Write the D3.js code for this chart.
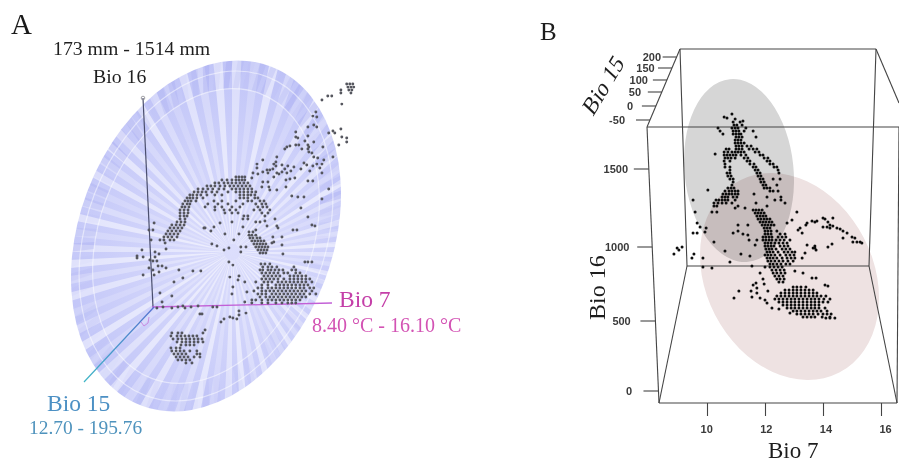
<!DOCTYPE html>
<html>
<head>
<meta charset="utf-8">
<style>
html, body { margin: 0; background: #fff; }
svg { display: block; }
text { font-family: "Liberation Serif", serif; }
.tickB text { font-family: "Liberation Sans", sans-serif; font-size: 11px; font-weight: 600; fill: #3a3a3a; }
.tickB line { stroke: #444; stroke-width: 1.1; }
.soft { filter: blur(.45px); }
.softer { filter: blur(.7px); }
</style>
<script src="https://cdn.jsdelivr.net/npm/d3@7"></script>
</head>
<body>
<div id="chart"></div>
<script>
// tick values, panel B
const bio7Ticks = [10, 12, 14, 16];
const bio16Ticks = [0, 500, 1000, 1500];
const bio15Ticks = [-50, 0, 50, 100, 150, 200];

// every row below is [Bio 16, [Bio 7, ...]]
// panel A is a tilted projection, so rows run past the axis limits at both ends
const aTip = [
  [1604,[16.73,16.86,16.99]],[1584,[16.78,16.91,17.03]],[1565,[16.48,16.82,16.95]],[1546,[16.48,16.91]],
  [1527,[15.92,16.09]],[1501,[15.67]],[1475,[16.52]],[1315,[16.48]],[1302,[16.14]],[1289,[15.96,16.22]],
  [1264,[16.52]],[1257,[16.73]],[1232,[16.73]],[1212,[16.39]]
];
const aUpper = [
  [1424,[15.41]],[1398,[15.28]],[1392,[15.45]],[1341,[15.32]],[1328,[15.07,15.45]],[1296,[14.55]],[1270,[15.07]],
  [1264,[14.55]],[1257,[14.64]],[1238,[14.94]],[1232,[15.32]],[1212,[15.07,14.55,14.68]],[1206,[14.3]],
  [1200,[14.17,15.11,15.71]],[1187,[14.08,14.81,15.07]],[1168,[15.11]],[1161,[15.24]],[1135,[13.74,15.32,16.14]],
  [1129,[15.49]],[1116,[13.14,15.75]],[1103,[13.7]],[1097,[14.9]],[1090,[12.89,13.61,15.45,15.67]],[1084,[13.96,15.02]],
  [1078,[13.7,14.21,15.28]],[1071,[14.47]],[1065,[12.89,15.58]],[1058,[13.57,14.08,14.77]],[1052,[13.32,13.44]],
  [1046,[14.34,15.15]],[1039,[13.14,13.96]],[1033,[12.72,13.36,13.74,14.17,15.67]],[1026,[12.93,13.83]],[1007,[13.61]],
  [1001,[12.67,14.51]],[994,[14.3]],[988,[14.13]],[981,[15.07,15.28]],[975,[13.14,13.36]],[943,[13.1,13.4,14.13]],
  [930,[15.96]],[924,[13.44,13.74]],[885,[14.38]],[879,[14.64,14.9]],[866,[15.67]]
];
const aArc = [
  [1007,[11.99,12.12,12.25,12.37]],[988,[11.39,11.61,11.82,11.99,12.12,12.25,12.37]],
  [969,[11.09,11.26,11.48,11.65,11.82,11.99,12.16,12.33,12.5]],
  [949,[10.75,10.92,11.09,11.31,11.52,11.73,11.9,12.08,12.25,12.42,12.59]],
  [930,[10.37,10.58,10.79,11,11.26,11.48,11.82,11.99,12.16,12.33,12.5,12.67]],
  [911,[10.2,10.37,10.54,10.71,10.96,11.18,11.65,11.99,12.16,12.33,12.5,12.67,12.84]],
  [892,[10.02,10.15,10.32,10.49,10.75,11.09,11.39,12.16,12.33,12.5,12.63,12.8]],
  [872,[9.9,10.02,10.15,10.32,10.58,12.16,12.33,12.5,12.8,12.93]],
  [853,[9.81,9.94,10.07,10.28,11.05,11.39,11.99,12.5,12.67,13.02,13.19]],
  [834,[9.72,9.9,10.02,10.79,11.22,11.65,12.29,12.84,13.1,13.27]],
  [815,[9.68,9.81,9.98,10.67,11.09,11.39,11.82,12.16,12.93,13.14,13.32]],
  [795,[9.6,9.77,9.94,11.09,11.48,11.73,11.99,12.76,13.02,13.44]],
  [776,[9.6,9.77,9.94,11.52,11.82,12.08,13.1,13.36]],[757,[9.6,9.77,9.9,12.33,12.5,13.23]],
  [738,[9.6,9.81,12.29,12.5]],[718,[9.47,9.64,9.81,11.82,13.02]],[699,[9.25,9.43,9.6,9.77]],
  [680,[9.17,9.34,9.51,9.68,10.62]],[661,[9.08,9.25,9.43,9.6]],[641,[9,9.17,9.34,9.51]],
  [622,[8.91,9.08,9.25,9.47]],[603,[8.74,8.91,9.17,9.34]],[584,[8.96]]
];
const aMidBlob = [
  [654,[12.55,12.72]],[634,[12.55,12.67,12.84]],[616,[12.59,12.72,12.89,13.02]],[597,[12.67,12.8,12.93,13.06,13.19]],
  [577,[12.76,12.89,13.02,13.14,13.27]],[558,[12.84,12.97,13.1,13.23,13.36]],[539,[12.93,13.06,13.19,13.32]],
  [519,[13.02,13.14,13.27]]
];
const aScatter = [
  [808,[14.77]],[750,[15.07]],[738,[13.66]],[725,[13.23]],[718,[12.84]],[712,[11.31,8.49]],[699,[15.24]],
  [693,[13.32,13.74,15.37]],[686,[11.05,12.29]],[680,[10.67,13.79]],[667,[8.27,8.44,12.84,14.43,14.6]],[661,[10.92]],
  [641,[11.52,12.12]],[622,[13.57,13.96]],[603,[11.9,8.36]],[590,[13.61]],[584,[13.53]],[577,[10.96]],[571,[13.96]],
  [564,[11.18]],[558,[12.2,12.42]],[552,[11.69]],[545,[9]],[539,[7.97,11.48]],[526,[8.53,12.2]],[513,[8.7,14]],
  [500,[7.76]],[494,[8.02,8.53]],[487,[7.76]],[475,[8.31]],[468,[8.44,8.61]],[462,[11.69,14.94,15.07,15.24]],
  [442,[11.86]],[436,[8.66,8.83]],[423,[8.27,9]],[410,[8.44,9.55]],[404,[10.15,10.49]],[398,[8.7]],[378,[8.02,8.49]],
  [372,[12.12]],[365,[11.73]],[359,[9.72]],[346,[12.08]],[333,[9.34,12.37]],[301,[11.86]],[269,[12.46]],[263,[8.74]],
  [256,[11.82]],[244,[9.25]],[205,[8.83,12.37]],[199,[12.67,13.1]],[179,[9.72,10.37]],[173,[8.87,9.51,10.07,11,11.18]],
  [167,[8.61,9.25,9.81]],[147,[12.12]],[134,[12.42]],[128,[10.45,10.54]],[122,[12.12]],[109,[11.73]],[102,[11.86]],
  [96,[11.48,12.03]],[77,[11.35]]
];
const aBigBlob = [
  [449,[13.06,13.23,13.44]],[430,[13.14,13.36,13.53,13.74,14.47]],[410,[13.02,13.14,13.36,13.49,13.66,13.83,14,14.38,14.55]],
  [391,[13.1,13.27,13.44,13.61,13.79,14.04,14.21,14.55,14.73]],
  [372,[13.19,13.36,13.53,13.7,13.87,14.3,14.47,14.64,14.81,14.98]],
  [353,[13.1,13.27,13.44,13.61,13.79,14.04,14.3,14.47,14.64,14.81,14.98,15.15]],
  [333,[12.84,13.19,13.36,13.53,13.79,13.96,14.13,14.3,14.47,14.64,14.81,14.98,15.24]],
  [314,[13.1,13.36,13.7,13.87,14.04,14.21,14.38,14.55,14.73,14.9,15.07]],
  [295,[12.93,13.1,13.36,13.53,13.7,13.87,14.04,14.21,14.38,14.55,14.73,14.9,15.15,15.32]],
  [276,[12.76,13.1,13.27,13.44,13.61,13.79,13.96,14.13,14.3,14.47,14.64,14.81,14.98,15.24]],
  [256,[12.93,13.1,13.27,13.53,13.7,13.87,14.04,14.21,14.38,14.55,14.73,14.9,15.15,15.41]],
  [237,[13.02,13.27,13.44,13.61,13.79,13.96,14.13,14.3,14.47,14.64,14.81,14.98]],
  [218,[12.67,12.84,13.1,13.36,13.53,13.7,13.87,14.04,14.21,14.38,14.55,14.73]],
  [199,[13.36,13.7,13.96,14.21,14.38,14.55]]
];
const aLowBlob = [
  [25,[10.67]],[6,[9.25,9.51,9.68,10.58]],[-13,[9.21,9.47,9.64,9.81,9.98,10.15,10.32]],
  [-32,[9.3,9.51,9.68,9.85,10.02,10.2,10.37,10.54]],[-52,[9.47,9.68,9.85,10.02,10.2,10.37,10.58]],
  [-71,[9.64,9.85,10.02,10.2]],[-90,[9.21,9.43,9.6]],[-109,[9.25,9.43,9.6,9.77,10.02,10.32]],
  [-129,[9.34,9.51,9.68,9.85,10.32,10.45]],[-148,[9.43,9.6,9.77,9.94,10.2,10.45]],
  [-167,[9.51,9.68,9.85,10.02]],[-186,[9.85,10.11]]
];

const bUpper = [
  [1853,[10.86]],[1833,[10.59]],[1827,[10.69]],[1820,[10.97]],[1808,[11.24]],[1801,[11.14,10.9]],[1782,[10.93,11.03,11.21]],
  [1763,[10.38,10.86,10.97,11.07,11.34]],[1744,[10.45,10.9,11,11.1,11.28,11.59]],[1724,[10.55,10.9,11,11.1,11.17]],
  [1705,[11,11.1,11.21,11.69]],[1686,[10.97,11.07,11.17]],[1667,[10.97,11.07,11.17,11.28]],[1647,[11,11.1,11.21,11.38,11.52]],
  [1628,[10.66,10.76,11,11.1,11.21,11.45,11.59,11.72]],[1609,[10.59,10.72,10.86,10.97,11.07,11.17,11.28,11.66,11.79]],
  [1596,[10.28]],[1590,[10.59,10.69,10.79,10.9,11,11.17,11.34,11.83,11.93]],[1570,[10.62,10.72,10.83,10.97,11.28,11.41,11.97,12.1]],
  [1551,[10.59,10.79,11.38,11.48,12.07,12.17]],[1532,[10.62,11.48,11.62,12.17,12.28]],[1513,[10.62,10.79,11.59,11.69,12.31,12.41]],
  [1494,[10.79,11.66,11.76,12.45]],[1474,[10.69,10.79,11.72,11.83,12.48]],[1455,[10.72,10.83,11.76,11.86]],
  [1436,[10.79,10.9,11.83,11.93,12.28,12.52]],[1417,[10.9,11.86,11.97]],[1397,[10.86,11.93,12.03,12.41]],
  [1378,[10.72,10.83,10.93,11.97,12.07,12.17]],[1365,[10.03]],[1359,[10.62,10.76,10.86,10.97,11.07,12.17,12.28,12.45]],
  [1340,[10.55,10.66,10.76,10.86,10.97,11.07,11.62]],[1321,[10.52,10.62,10.72,10.9,11.03,12.07,12.55]],
  [1301,[9.52,10.31,10.41,10.52,10.62,10.72,10.97,12.34,12.55]],[1282,[10.24,10.38,10.52,10.66,10.86,11.69,12.69]],
  [1263,[10.24,10.34,11.07,12.07]],[1250,[10.97,11.31]],[1224,[9.59,10.17,10.34]]
];
const bStem = [
  [1237,[11.59,11.69,11.79,11.9]],[1218,[11.66,11.76,11.86,11.97]],[1199,[11.72,11.83,11.93,12.03]],
  [1179,[11.76,11.86,11.97,12.07,12.17]],[1160,[11.83,11.93,12.03,12.14,12.24]],[1141,[11.9,12,12.1,12.21,12.31]],
  [1122,[11.97,12.07,12.17]],[1103,[12,12.1,12.21,12.41]],[1083,[12,12.1,12.21,12.52,12.69]],
  [1064,[11.93,12.03,12.14,12.24,12.45,12.59,12.72]],[1045,[11.93,12.03,12.14,12.24,12.38,12.52,12.66,12.86]],
  [1026,[12,12.1,12.21,12.34,12.48,12.62,12.76]],[1006,[12,12.1,12.21,12.31,12.52,12.66,12.79]],
  [986,[12.03,12.14,12.24,12.38,12.59,12.72,12.86]],[966,[12.07,12.17,12.28,12.45,12.66,12.79,12.93,13.03]],
  [946,[12,12.1,12.21,12.34,12.52,12.72,12.86,13]],[926,[12.07,12.17,12.28,12.41,12.59,12.76,12.9,13.03]],
  [905,[12.1,12.21,12.34,12.48,12.62,12.79,12.97]],[885,[12.17,12.28,12.41,12.55,12.72,12.86]],
  [865,[12,12.17,12.31,12.45,12.59]],[845,[12.24,12.38,12.52,12.66]],[824,[12.28,12.41,12.55,12.69]],
  [804,[12.34,12.48,12.62]],[784,[12.41,12.52,12.66]],[764,[12.48,12.62]]
];
const bLowCluster = [
  [730,[12.97,13.1,13.24,13.41]],[710,[12.69,12.83,12.97,13.1,13.24,13.38,13.52,13.66]],
  [689,[12.55,12.69,12.83,12.97,13.1,13.24,13.38,13.52,13.66,13.79]],
  [669,[12.41,12.55,12.69,12.83,12.97,13.1,13.24,13.38,13.52,13.66,13.79,13.93,14.1]],
  [649,[12.34,12.48,12.62,12.76,12.9,13.03,13.17,13.31,13.45,13.59,13.72,13.86,14.03,14.24]],
  [628,[12.48,12.62,12.76,12.9,13.03,13.17,13.31,13.45,13.59,13.72,13.86,14,14.17]],
  [608,[12.62,12.76,12.9,13.03,13.17,13.31,13.45,13.59,13.72,13.86]],
  [588,[12.76,12.9,13.03,13.17,13.31,13.45,13.59,13.72,13.86,14.07]],
  [568,[12.97,13.1,13.24,13.38,13.52,13.66,13.79,13.93,14.14]],
  [547,[13.1,13.24,13.38,13.52,13.66,13.83,14,14.14,14.28]],
  [527,[13.31,13.45,13.59,13.72,13.97,14.24]],[520,[14.1,14.24,14.41]]
];
const bArc = [
  [1186,[14,14.34]],[1179,[14.07]],[1167,[13.62,13.79]],[1160,[14.17]],[1154,[13.45]],[1141,[14.24]],[1135,[14.34]],
  [1128,[14,14.14]],[1122,[13.21,14.24,14.48]],[1115,[14.59]],[1103,[14.69]],[1090,[13.28,14.83]],[1064,[15]],
  [1058,[14.69,15.1]],[1032,[15.03,15.17,15.28]],[1026,[15.34]],[1006,[13.72]],[993,[13.66]]
];
const bScatter = [
  [1224,[13.1]],[1173,[12.93]],[1160,[13.72]],[1154,[9.66,12.76]],[1141,[13.41,11.07,11.41]],[1128,[9.76]],[1122,[9.97]],
  [1109,[13.14]],[1103,[11.07]],[1096,[9.93]],[1090,[9.52,9.66,10.9]],[1083,[11.24]],[1077,[11.41]],[1045,[11.45,11.72]],
  [1032,[10.24]],[1019,[14.31]],[1013,[11.66,13.45]],[1000,[9.14,14.17]],[993,[8.97,13.72]],[980,[9.03,13.76]],[973,[10.62]],
  [959,[13.38]],[953,[8.86,9.55,11.17]],[939,[11.48]],[926,[9.48,9.86,13.28]],[899,[10.79]],[871,[11.55]],[865,[9.86]],
  [858,[10.17]],[838,[13.03]],[824,[11.83,13.31]],[790,[13.62,13.76]],[784,[11.93]],[757,[11.69]],[750,[11.97]],
  [743,[11.59,14.07]],[736,[14.17]],[723,[11.72]],[703,[11.1,11.52,12.1]],[689,[11.72]],[662,[11.55]],[655,[10.93,11.83]],
  [642,[12]],[622,[12.07]],[588,[12.24]],[581,[12.48]],[554,[12.86]]
];

const width = 899, height = 463;
const flat = rows => rows.flatMap(([bio16, xs]) => xs.map(bio7 => ({bio7, bio16})));

const svg = d3.select("#chart").append("svg")
  .attr("width", width)
  .attr("height", height);
const defs = svg.append("defs");

// ---- panel A
const xA = d3.scaleLinear().domain([8.4, 16.1]).range([152, 332]);
const yA = d3.scaleLinear().domain([173, 1514]).range([307, 98]);
const discTransform = "translate(206,236) rotate(-69.1) scale(181.5,126.8)";

const discFill = defs.append("radialGradient").attr("id", "discFill")
  .attr("gradientUnits", "userSpaceOnUse").attr("cx", 232).attr("cy", 252).attr("r", 200);
discFill.append("stop").attr("offset", 0).attr("stop-color", "#dcdefc");
discFill.append("stop").attr("offset", .55).attr("stop-color", "#cdd0fa");
discFill.append("stop").attr("offset", 1).attr("stop-color", "#bfc3f7");

const bio15Line = defs.append("linearGradient").attr("id", "bio15Line")
  .attr("gradientUnits", "userSpaceOnUse")
  .attr("x1", 155).attr("y1", 307).attr("x2", 84).attr("y2", 382);
bio15Line.append("stop").attr("offset", 0).attr("stop-color", "#5570d0");
bio15Line.append("stop").attr("offset", 1).attr("stop-color", "#3fb6c6");

defs.append("clipPath").attr("id", "discClip")
  .append("ellipse").attr("rx", 181.5).attr("ry", 126.8)
  .attr("transform", "translate(206,236) rotate(-69.1)");

const backdrop = svg.append("g").attr("clip-path", "url(#discClip)")
  .append("g").attr("class", "softer");
backdrop.append("rect").attr("width", 450).attr("height", 463).attr("fill", "url(#discFill)");

// pale spokes coming out of the hub, off centre like the 3d view
const spokeArc = d3.arc().innerRadius(8).outerRadius(280);
const spokeShade = [.42, .22, .5, .3, .18, .45, .28, .5];
const spokes = d3.range(0, 64);
backdrop.append("g").attr("transform", "translate(232,252)")
  .selectAll("path").data(spokes).join("path")
  .attr("d", i => spokeArc({startAngle: i * Math.PI / 32, endAngle: (i + .5) * Math.PI / 32}))
  .attr("fill", "#fff")
  .attr("opacity", i => spokeShade[i % 8]);

// darker blocks and the two rings round the rim
const rimArc = d3.arc().innerRadius(.84).outerRadius(1);
const rimShade = [.24, .06, .18, .3, .09, .27, .15, .05, .21];
const rim = backdrop.append("g").attr("transform", discTransform);
rim.selectAll("path").data(d3.range(0, 72)).join("path")
  .attr("d", i => rimArc({startAngle: i * Math.PI / 36, endAngle: (i + .55) * Math.PI / 36}))
  .attr("fill", "#9aa0ee")
  .attr("opacity", i => {
    // top left of the rim is strongest, bottom right nearly fades out
    const side = Math.cos(i * Math.PI / 36 - 1.2);
    return rimShade[i % 9] * (side > 0 ? 1 : .4);
  });
[.84, .94].forEach(r => {
  rim.append("circle").attr("r", r).attr("fill", "none")
    .attr("stroke", "#fff").attr("stroke-opacity", .5)
    .attr("stroke-width", 1.2).attr("vector-effect", "non-scaling-stroke");
});

const panelA = svg.append("g").attr("class", "soft");

// axes of the 3d view
panelA.append("line").attr("x1", xA(8.4) - 9).attr("y1", yA(1514))
  .attr("x2", xA(8.4) + 1).attr("y2", yA(173))
  .attr("stroke", "#4b4f6e").attr("stroke-width", 1.2);
panelA.append("circle").attr("cx", xA(8.4) - 9).attr("cy", yA(1514)).attr("r", 1.8)
  .attr("fill", "none").attr("stroke", "#8a8a90").attr("stroke-width", .8);
panelA.append("line").attr("x1", xA(8.4)).attr("y1", yA(173))
  .attr("x2", xA(16.1)).attr("y2", yA(173) - 4)
  .attr("stroke", "#c25fd6").attr("stroke-width", 1.3);
panelA.append("line").attr("x1", xA(8.4) + 2).attr("y1", yA(173))
  .attr("x2", 84).attr("y2", 382)
  .attr("stroke", "url(#bio15Line)").attr("stroke-width", 1.2);
panelA.append("path").attr("d", "M141,322 l3,4 l4,-3 l1,-6")
  .attr("fill", "none").attr("stroke", "#c88ae0").attr("stroke-width", 1);

const pointsA = [aTip, aUpper, aArc, aMidBlob, aScatter, aBigBlob, aLowBlob].flatMap(flat);
panelA.append("g").selectAll("circle").data(pointsA).join("circle")
  .attr("cx", d => xA(d.bio7))
  .attr("cy", d => yA(d.bio16))
  .attr("r", 1.45)
  .attr("fill", "#55565e");

const labelsA = [
  ["A", 11, 34, 29, "#1a1a1a"],
  ["173 mm - 1514 mm", 53, 55, 19.8, "#1f1f1f"],
  ["Bio 16", 93, 83, 19.8, "#1f1f1f"],
  ["Bio 7", 339, 307, 23.5, "#c43fa8"],
  ["8.40 °C - 16.10 °C", 312, 332, 20, "#d353b4"],
  ["Bio 15", 47, 411, 23.5, "#4c90c4"],
  ["12.70 - 195.76", 29, 434, 19.4, "#4f93bd"]
];
svg.append("g").attr("class", "soft").selectAll("text").data(labelsA).join("text")
  .attr("x", d => d[1]).attr("y", d => d[2])
  .attr("font-size", d => d[3]).attr("fill", d => d[4])
  .text(d => d[0]);

// ---- panel B
const xB = d3.scaleLinear().domain([10, 16]).range([707, 881]);
const yB = d3.scaleLinear().domain(bio16Ticks).range([391, 321, 247, 169]);
const zB = d3.scaleLinear().domain(bio15Ticks).range([120, 106, 92, 80, 68, 57]);

const panelB = svg.append("g").attr("class", "soft");

panelB.append("ellipse").attr("rx", 108.2).attr("ry", 83.8)
  .attr("transform", "translate(789.5,276.5) rotate(62.6)")
  .attr("fill", "#eee2e2");
panelB.append("ellipse").attr("rx", 91.8).attr("ry", 54.5)
  .attr("transform", "translate(739,170.5) rotate(84.2)")
  .attr("fill", "#d6d6d6")
  .style("mix-blend-mode", "multiply");

// box edges
const boxEdges = [
  [680,49,876,49],[647,127,899,127],[647,127,680,49],[876,49,899,103],
  [680,49,687,266],[876,49,869,266],[687,266,869,266],
  [647,127,659,403],[659,403,897,403],[897,403,899,127],
  [687,266,659,403],[869,266,897,403]
];
panelB.append("g").selectAll("line").data(boxEdges).join("line")
  .attr("x1", d => d[0]).attr("y1", d => d[1])
  .attr("x2", d => d[2]).attr("y2", d => d[3])
  .attr("stroke", "#444").attr("stroke-width", 1.1);

const xAxisB = d3.axisBottom(xB).tickValues(bio7Ticks).tickFormat(d => d).tickSize(13).tickPadding(9);
panelB.append("g").attr("class", "tickB").attr("transform", "translate(0,403)")
  .call(xAxisB)
  .call(g => g.select(".domain").remove())
  .call(g => g.selectAll(".tick text").attr("dx", d => (d - 11) * .8));

// the two left axes sit on slanted box edges, so move each tick along the edge
const edge16 = d3.scaleLinear().domain([127, 403]).range([647, 659]);
const label16 = d3.scaleLinear().domain([391, 169]).range([632, 628]);
const yAxisB = d3.axisLeft(yB).tickValues(bio16Ticks).tickFormat(d => d).tickSize(15);
panelB.append("g").attr("class", "tickB")
  .call(yAxisB)
  .call(g => g.select(".domain").remove())
  .call(g => g.selectAll(".tick")
    .attr("transform", d => `translate(${edge16(yB(d))},${yB(d)})`)
    .select("text").attr("x", d => label16(yB(d)) - edge16(yB(d))));

const edge15 = d3.scaleLinear().domain([127, 49]).range([647, 680]);
const label15 = d3.scaleLinear().domain([120, 57]).range([625, 661]);
const zAxisB = d3.axisLeft(zB).tickValues(bio15Ticks).tickFormat(d => d).tickSize(14);
panelB.append("g").attr("class", "tickB")
  .call(zAxisB)
  .call(g => g.select(".domain").remove())
  .call(g => g.selectAll(".tick")
    .attr("transform", d => `translate(${edge15(zB(d))},${zB(d)})`)
    .select("text").attr("x", d => label15(zB(d)) - edge15(zB(d))));

const pointsB = [bUpper, bStem, bLowCluster, bArc, bScatter].flatMap(flat);
panelB.append("g").selectAll("circle").data(pointsB).join("circle")
  .attr("cx", d => xB(d.bio7))
  .attr("cy", d => yB(d.bio16))
  .attr("r", 1.5)
  .attr("fill", "#0d0d0d");

const labelsB = [
  ["B", 540, 40, 25, "", 0],
  ["Bio 7", 768, 458, 23, "", 0],
  ["Bio 16", 605, 320, 24, "", -90],
  ["Bio 15", 593, 117, 23, " skewX(-12)", -59]
];
svg.append("g").attr("class", "soft").selectAll("text").data(labelsB).join("text")
  .attr("transform", d => `translate(${d[1]},${d[2]}) rotate(${d[5]})${d[4]}`)
  .attr("font-size", d => d[3])
  .attr("fill", "#1d1d1d")
  .text(d => d[0]);
</script>
</body>
</html>
